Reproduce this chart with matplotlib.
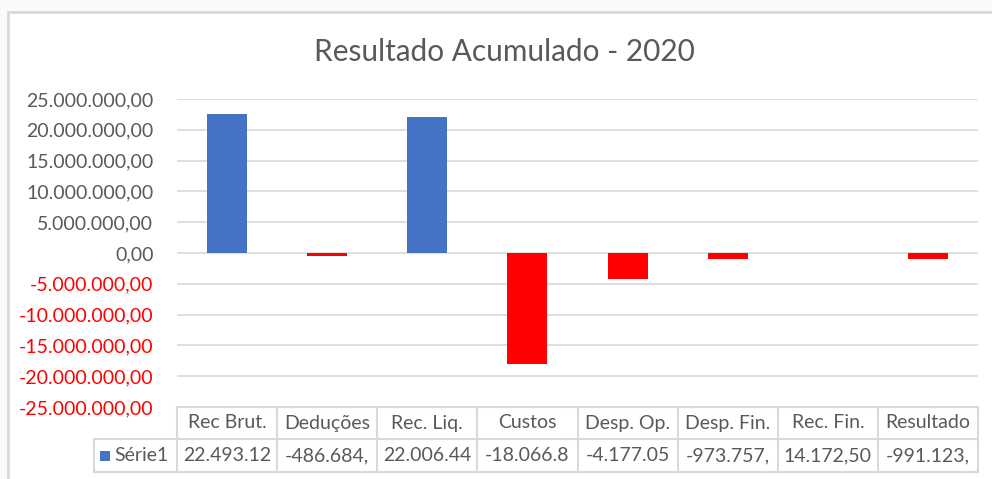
import matplotlib
matplotlib.use("Agg")
import matplotlib.pyplot as plt
from matplotlib.patches import Rectangle
from matplotlib.lines import Line2D

categories = ["Rec Brut.", "Deduções", "Rec. Liq.", "Custos", "Desp. Op.", "Desp. Fin.", "Rec. Fin.", "Resultado"]
values = [22493120, -486684, 22006440, -18066800, -4177050, -973757, 14172.50, -991123]
table_labels = ["22.493.12", "-486.684,", "22.006.44", "-18.066.8", "-4.177.05", "-973.757,", "14.172,50", "-991.123,"]
series_name = "Série1"
title = "Resultado Acumulado - 2020"
yticks = [25e6, 20e6, 15e6, 10e6, 5e6, 0, -5e6, -10e6, -15e6, -20e6, -25e6]

FONT = ["Lato", "DejaVu Sans"]
GRAY = "#595959"
BLUE = "#4472c4"
RED = "#ff0000"
GRID = "#d9d9d9"

W, H = 992, 479
fig = plt.figure(figsize=(W / 100, H / 100), dpi=100)
fig.patch.set_facecolor("#fafafa")

def fx(px):
    return px / W

def fy(py):
    return 1 - py / H

# chart area background + border
fig.patches.append(Rectangle((fx(8), 0), 1 - fx(8), fy(12), transform=fig.transFigure,
                             facecolor="white", edgecolor="none", zorder=-10))
fig.lines.append(Line2D([fx(8), 1], [fy(12), fy(12)], transform=fig.transFigure, color=GRID, lw=2))
fig.lines.append(Line2D([fx(8), fx(8)], [0, fy(12)], transform=fig.transFigure, color=GRID, lw=2))

L, R = 177, 978
ax = fig.add_axes([fx(L), fy(407), fx(R) - fx(L), fy(99) - fy(407)])
ax.set_facecolor("none")
ax.set_xlim(-0.5, len(categories) - 0.5)
ax.set_ylim(-25e6, 25e6)
colors = [BLUE if v >= 0 else RED for v in values]
ax.bar(range(len(categories)), values, width=0.4, color=colors, zorder=3)
ax.set_yticks(yticks)
ax.grid(axis="y", color=GRID, lw=1.2, zorder=0)
ax.set_axisbelow(True)
for s in ax.spines.values():
    s.set_visible(False)
ax.tick_params(axis="y", length=0, pad=17)
ax.tick_params(axis="x", length=0, labelbottom=False)

def fmt(v):
    s = f"{abs(v):,.2f}".replace(",", "X").replace(".", ",").replace("X", ".")
    return ("-" if v < 0 else "") + s

ax.set_yticklabels([fmt(t) for t in yticks])
for lab, t in zip(ax.get_yticklabels(), yticks):
    lab.set_fontfamily(FONT)
    lab.set_fontsize(14)
    lab.set_color(RED if t < 0 else GRAY)

fig.text(0.509, fy(52), title, ha="center", va="center", fontsize=21.4, color=GRAY, fontfamily=FONT)

# data table
col_w = (R - L) / len(categories)
top, mid, bot = 407, 439, 472
tl = "#d9d9d9"
def hline(x0, x1, y):
    fig.lines.append(Line2D([fx(x0), fx(x1)], [fy(y), fy(y)], transform=fig.transFigure, color=tl, lw=1.5))
def vline(x, y0, y1):
    fig.lines.append(Line2D([fx(x), fx(x)], [fy(y0), fy(y1)], transform=fig.transFigure, color=tl, lw=1.5))

hline(L, R, top)
hline(94, R, mid)
hline(94, R, bot)
vline(94, mid, bot)
for i in range(len(categories) + 1):
    vline(L + i * col_w, top, bot)

for i, (c, t) in enumerate(zip(categories, table_labels)):
    cx = L + (i + 0.5) * col_w
    fig.text(fx(cx), fy((top + mid) / 2), c, ha="center", va="center", fontsize=14, color=GRAY, fontfamily=FONT)
    fig.text(fx(cx), fy((mid + bot) / 2), t, ha="center", va="center", fontsize=14, color=GRAY, fontfamily=FONT)

fig.patches.append(Rectangle((fx(100), fy(461)), fx(10), fy(451) - fy(461), transform=fig.transFigure,
                             facecolor=BLUE, edgecolor="none"))
fig.text(fx(114), fy((mid + bot) / 2), series_name, ha="left", va="center", fontsize=14, color=GRAY, fontfamily=FONT)

fig.savefig("out.png", dpi=100, facecolor=fig.get_facecolor())
